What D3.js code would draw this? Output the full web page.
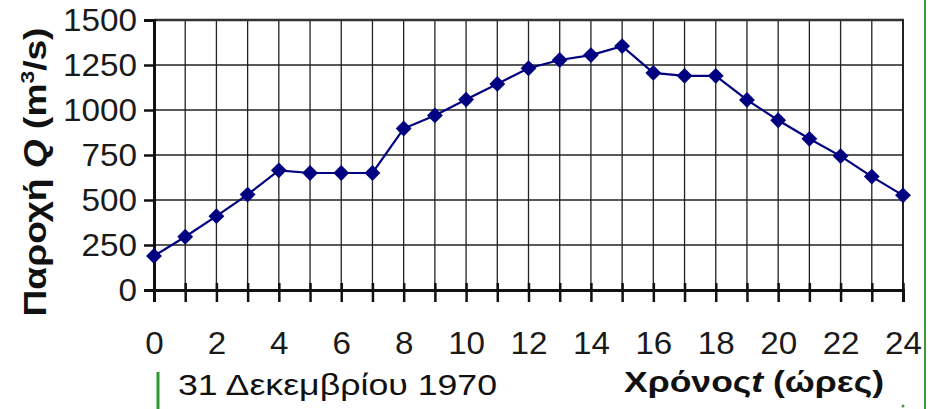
<!DOCTYPE html>
<html>
<head>
<meta charset="utf-8">
<script src="https://cdn.jsdelivr.net/npm/d3@7"></script>
<style>
  body { margin: 0; background: #fff; }
  svg { display: block; font-family: "Liberation Sans", Arial, sans-serif; }
</style>
</head>
<body>
<svg id="chart" width="928" height="409"></svg>
<script>
// hourly discharge, 31 Dec 1970
const hours = d3.range(0, 25)
const discharge = [189, 296, 410, 530, 665, 650, 650, 650, 897, 970, 1058, 1145, 1232,
  1278, 1305, 1355, 1206, 1190, 1190, 1056, 943, 840, 744, 630, 526]
const yTicks = [0, 250, 500, 750, 1000, 1250, 1500]
const xLabelTicks = [0, 2, 4, 6, 8, 10, 12, 14, 16, 18, 20, 22, 24]

const svg = d3.select('#chart')
const plotL = 154, plotR = 903, plotT = 20, plotB = 290

const x = d3.scaleLinear().domain([0, 24]).range([plotL, plotR])
const y = d3.scaleLinear().domain([0, 1500]).range([plotB, plotT])

// the source picture is a bit wider than tall, stretch text to fit
function stretch(sel, k) {
  sel.each(function () {
    const len = this.getComputedTextLength()
    if (len > 0) d3.select(this).attr('textLength', len * k).attr('lengthAdjust', 'spacingAndGlyphs')
  })
}

// grid
const grid = svg.append('g').attr('stroke', '#222').attr('stroke-width', 1.3)
grid.selectAll('.v').data(hours.slice(1)).join('line')
  .attr('x1', d => x(d)).attr('x2', d => x(d))
  .attr('y1', plotT).attr('y2', plotB)
grid.selectAll('.h').data(yTicks.slice(1)).join('line')
  .attr('x1', plotL).attr('x2', plotR)
  .attr('y1', d => y(d)).attr('y2', d => y(d))
// top + right border a bit heavier
svg.append('line').attr('x1', plotL).attr('x2', plotR + 1).attr('y1', plotT).attr('y2', plotT)
  .attr('stroke', '#333').attr('stroke-width', 2.5)
svg.append('line').attr('x1', plotR).attr('x2', plotR).attr('y1', plotT).attr('y2', plotB)
  .attr('stroke', '#222').attr('stroke-width', 2)

// y axis
const yAxis = d3.axisLeft(y).tickValues(yTicks).tickSize(10).tickPadding(7).tickFormat(d3.format('d'))
const gy = svg.append('g').attr('transform', `translate(${plotL},0)`).call(yAxis)
gy.select('.domain').attr('stroke', '#111').attr('stroke-width', 3)
gy.selectAll('.tick line').attr('stroke', '#111').attr('stroke-width', 2.5)
gy.selectAll('.tick text').attr('font-size', 32).attr('fill', '#1a1a1a')
  .attr('font-family', '"Liberation Sans", Arial, sans-serif')
  .call(stretch, 1.04)

// x axis
const xAxis = d3.axisBottom(x).tickValues(hours).tickSize(12).tickPadding(30)
  .tickFormat(d => xLabelTicks.includes(d) ? d : '')
const gx = svg.append('g').attr('transform', `translate(0,${plotB})`).call(xAxis)
gx.select('.domain').attr('stroke', '#111').attr('stroke-width', 3)
gx.selectAll('.tick line').attr('stroke', '#111').attr('stroke-width', 2.5).attr('y1', -7)
gx.selectAll('.tick text').attr('font-size', 31).attr('fill', '#1a1a1a')
  .attr('font-family', '"Liberation Sans", Arial, sans-serif')
  .call(stretch, 1.07)

// series
const line = d3.line().x((d, i) => x(hours[i])).y(d => y(d))
svg.append('path').datum(discharge)
  .attr('d', line).attr('fill', 'none').attr('stroke', '#000080').attr('stroke-width', 2.2)
svg.selectAll('.pt').data(discharge).join('path')
  .attr('d', d3.symbol(d3.symbolDiamond2, 160))
  .attr('transform', (d, i) => `translate(${x(hours[i])},${y(d)})`)
  .attr('fill', '#000080')

// y title
const yt = svg.append('text')
  .attr('transform', 'translate(46,172) rotate(-90)')
  .attr('text-anchor', 'middle').attr('font-size', 31).attr('font-weight', 'bold')
  .attr('fill', '#111')
yt.append('tspan').text('Παροχή ')
yt.append('tspan').attr('font-style', 'italic').text('Q')
yt.append('tspan').text(' (m')
yt.append('tspan').attr('font-size', 19).attr('dy', -12).text('3')
yt.append('tspan').attr('dy', 12).text('/s)')
yt.attr('textLength', 289).attr('lengthAdjust', 'spacingAndGlyphs')

// bottom texts
svg.append('text').attr('x', 178).attr('y', 395)
  .attr('font-size', 30).attr('fill', '#111').text('31 Δεκεμβρίου 1970')
  .attr('textLength', 319).attr('lengthAdjust', 'spacingAndGlyphs')
const xt = svg.append('text').attr('x', 624).attr('y', 392)
  .attr('font-size', 29).attr('font-weight', 'bold').attr('fill', '#111')
xt.append('tspan').text('Χρόνος')
xt.append('tspan').attr('font-style', 'italic').text('t')
xt.append('tspan').text(' (ώρες)')
xt.attr('textLength', 260).attr('lengthAdjust', 'spacingAndGlyphs')

// green frame remnants
svg.append('line').attr('x1', 925).attr('x2', 925).attr('y1', 0).attr('y2', 409)
  .attr('stroke', '#3c9a3c').attr('stroke-width', 2)
svg.append('line').attr('x1', 158).attr('x2', 158).attr('y1', 372).attr('y2', 409)
  .attr('stroke', '#2e9a2e').attr('stroke-width', 3)
svg.append('circle').attr('cx', 903).attr('cy', 406).attr('r', 1.5).attr('fill', '#3c9a3c')
</script>
</body>
</html>
